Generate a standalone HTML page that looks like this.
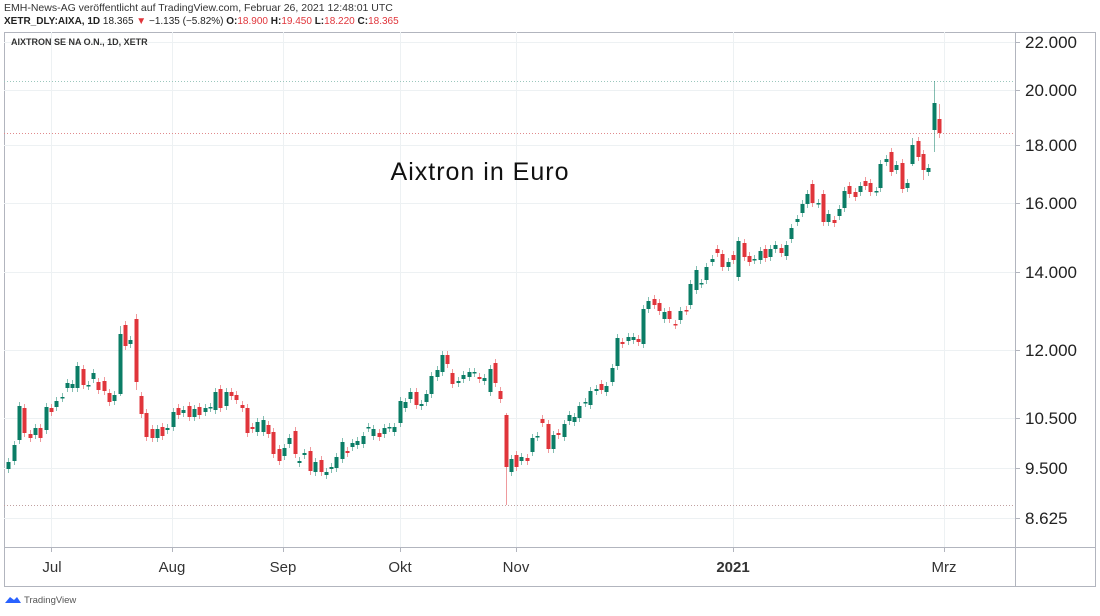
<!DOCTYPE html>
<html><head><meta charset="utf-8"><style>
body{margin:0;width:1100px;height:611px;background:#fff;overflow:hidden;font-family:"Liberation Sans",sans-serif}
</style></head><body>
<svg id="s" width="1100" height="611" xmlns="http://www.w3.org/2000/svg" font-family="Liberation Sans, sans-serif">
<text x="4" y="11" font-size="10.5" fill="#333">EMH-News-AG veröffentlicht auf TradingView.com, Februar 26, 2021 12:48:01 UTC</text>
<text x="4" y="24" font-size="10" fill="#222"><tspan font-weight="bold">XETR_DLY:AIXA, 1D</tspan> 18.365 <tspan fill="#e0353b">▼</tspan> −1.135 (−5.82%) <tspan font-weight="bold">O:</tspan><tspan fill="#e0353b">18.900</tspan> <tspan font-weight="bold">H:</tspan><tspan fill="#e0353b">19.450</tspan> <tspan font-weight="bold">L:</tspan><tspan fill="#e0353b">18.220</tspan> <tspan font-weight="bold">C:</tspan><tspan fill="#e0353b">18.365</tspan></text>
<rect x="4.5" y="32.5" width="1091" height="554" fill="none" stroke="#b2b5be"/>
<line x1="1015.5" y1="32" x2="1015.5" y2="587" stroke="#b2b5be"/>
<line x1="4" y1="547.5" x2="1096" y2="547.5" stroke="#b2b5be"/>
<g id="grid" stroke="#edf1f3" stroke-width="1"></g>
<text x="11" y="45" font-size="9" font-weight="bold" fill="#333">AIXTRON SE NA O.N., 1D, XETR</text>
<line x1="4" y1="81.5" x2="1015" y2="81.5" stroke="#9bc7bd" stroke-dasharray="1,2"/>
<line x1="4" y1="133.5" x2="1015" y2="133.5" stroke="#e08a8c" stroke-dasharray="1,2"/>
<line x1="4" y1="505.5" x2="1015" y2="505.5" stroke="#c0a0a0" stroke-dasharray="1,2"/>
<g id="c"></g>
<text x="480" y="180" font-size="25" fill="#111" text-anchor="middle" letter-spacing="1">Aixtron in Euro</text>
<g id="yl" font-size="17" fill="#222"></g>
<g font-size="15" fill="#333" text-anchor="middle">
<text x="52" y="572">Jul</text><text x="172" y="572">Aug</text><text x="283" y="572">Sep</text>
<text x="400" y="572">Okt</text><text x="516" y="572">Nov</text><text x="733" y="572" font-weight="bold">2021</text><text x="944" y="572">Mrz</text>
</g>
<path d="M5 603 l5-6 4 3 3-3 4 6z" fill="#2962ff"/>
<text x="24" y="603" font-size="9.5" fill="#555">TradingView</text>
</svg>
<script>
var ns="http://www.w3.org/2000/svg";
function el(p,t,a){var e=document.createElementNS(ns,t);for(var k in a)e.setAttribute(k,a[k]);p.appendChild(e);return e;}
var g=document.getElementById('grid');
[42,90,145,203,272,350,418,468,518].forEach(function(y){el(g,'line',{x1:4,y1:y+.5,x2:1015,y2:y+.5});});
[51,172,283,400,516,733,944].forEach(function(x){el(g,'line',{x1:x+.5,y1:32,x2:x+.5,y2:547});el(g,'line',{x1:x+.5,y1:547,x2:x+.5,y2:552,stroke:'#b2b5be'});});
var yl=document.getElementById('yl');
[[42,'22.000'],[90,'20.000'],[145,'18.000'],[203,'16.000'],[272,'14.000'],[350,'12.000'],[418,'10.500'],[468,'9.500'],[518,'8.625']].forEach(function(a){
 el(yl,'line',{x1:1015,y1:a[0]+.5,x2:1020,y2:a[0]+.5,stroke:'#b2b5be'});
 var t=el(yl,'text',{x:1025,y:a[0]+6});t.textContent=a[1];});
var D="8g462,469;14g445,461;19g406,440;24r408,433;30r434,438;35g428,435;40r428,438;46g407,430;51r408,412;56g401,407;62d397;67g383,388;72g384,388;77g366,388;83r369,385;88d385;93g373,379;98r382,390;104r381,391;109r393,402;114g395,401;120g334,394;125r325,346;130g340,344;136r319,382;141r396,414;146r413,437;152r429,438;157g429,438;162r427,436;167g428,430;173g412,427;178r408,415;183g410,413;189r406,417;194g409,417;199r407,415;205g408,412;210d407;215g392,410;220r389,408;226g392,406;231r392,396;236r395,400;242r405,408;247r408,433;252r427,429;257g422,432;263g420,432;268r425,434;273r432,454;279r449,461;284g448,456;289g438,444;295r431,454;299g461,463;304g453,455;310r451,471;315g462,472;321r460,472;326g472,475;331g467,469;336g457,468;342g442,459;347r451,453;352g443,447;357g441,445;363g436,444;368d427;373g429,436;379r433,437;384g428,434;389d427;394g427,432;400g401,423;405g402,408;410g392,399;416r392,405;421g404,406;426g394,402;431g376,394;437g370,377;442g355,372;447r355,364;452r373,384;458g381,383;463g375,379;469g372,377;474d372;479r377,379;484g378,381;490g369,392;495r363,383;500r391,399;506r415,467;511g459,472;516r455,467;521g457,461;527r458,461;532g438,452;537d436;542r419,423;548r424,449;553g435,449;558r433,435;564g424,437;569g415,421;574g417,422;579g406,418;585d402;590g391,405;596g389,391;601r384,390;606g386,392;612g368,382;617g338,366;622r342,344;628g337,341;633g337,340;638r339,342;643g309,344;648g301,309;654r299,305;659r303,311;664g312,319;669r311,319;675r324,325;680g311,320;686r310,311;690g284,305;696g270,290;701g283,284;706g267,280;712g259,262;717r249,253;722r254,267;728g262,267;733r255,260;738g241,277;744r243,257;749r256,262;754d259;760g251,260;765r249,258;770g249,257;775g245,249;781r248,253;786g245,256;791g228,239;797g219,222;802g204,213;807g194,204;812r184,203;818d203;823r194,222;828g214,222;834r220,223;839g209,216;844g191,208;849r186,194;855r192,197;860g186,192;865r181,186;870r183,192;876d191;880g164,188;886g159,162;891r152,172;896g165,170;902r163,189;907g183,188;912g145,164;918r141,157;923r154,170;928g168,172;934g103,130;939r119,133";
var W={506:[413,505],934:[81,152],939:[104,138],120:[326,396],136:[314,390],912:[138,166],923:[150,180],737:[238,290]};
var cg=document.getElementById('c');
D.split(';').forEach(function(s){
 var x=parseInt(s),t=s.replace(/^\d+/,'')[0],r=s.replace(/^\d+[a-z]/,'').split(',').map(Number);
 var top=r[0],bot=r.length>1?r[1]:r[0]+1;
 var col=t=='r'?'#e0353b':'#0b7d66';
 var w=W[x]||[top-4,bot+4];
 el(cg,'line',{x1:x+.5,y1:w[0],x2:x+.5,y2:w[1],stroke:col,'stroke-opacity':0.5});
 el(cg,'rect',{x:x-1.5,y:top,width:4,height:Math.max(1.5,bot-top),fill:col});
});
</script>
</body></html>
